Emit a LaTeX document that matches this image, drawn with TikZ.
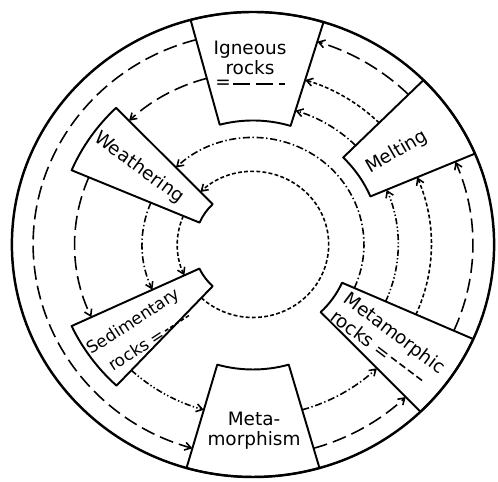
\documentclass[tikz,border=0pt]{standalone}
\usepackage{fontspec}
\setmainfont{DejaVu Sans}
\usepackage{tikz}
\usetikzlibrary{arrows.meta}

\begin{document}
\begin{tikzpicture}[x=0.02cm,y=0.02cm,
		font=\fontsize{10.5}{11.5}\selectfont,
		box/.style={line width=1.1pt, line join=round},
		ring/.style={line width=0.9pt, -{Straight Barb[length=3.5pt,width=4.5pt]}},
		ig/.style={dash pattern=on 8pt off 3.5pt},
		sed/.style={dash pattern=on 2.2pt off 1.3pt},
		met/.style={dash pattern=on 4pt off 2pt},
		dd/.style={dash pattern=on 4pt off 1.5pt on 0.8pt off 1.5pt},
		ddd/.style={dash pattern=on 3.5pt off 1.3pt on 0.8pt off 1.3pt on 0.8pt off 1.3pt}]
	\useasboundingbox (0,0) rectangle (498,482);
	\begin{scope}[shift={(253,237.5)}, xscale=1.037]
		\draw[line width=1.4pt] (0,0) circle (232.5);
		\foreach \s/\e/\ri/\ro in { 73/105/124/232.5, 254/286/125/232.5, 23/45/123/232.5, -46/-24/94/232.5, 134/157/56/190, 205/227/57/193 }
		\draw[box] (\s:\ri) arc[start angle=\s, end angle=\e, radius=\ri] -- (\e:\ro) arc[start angle=\e, end angle=\s, radius=\ro] -- cycle;
		\foreach \s/\e/\r in { 105/254/212, 286/314/212, -24/23/212, 45/73/212, 105/134/172, 157/205/172 }
		\draw[ring,ig] (\s:\r) arc[start angle=\s, end angle=\e, radius=\r];
		\foreach \s/\e/\r in { 227/494/73, 157/205/73, -24/23/172, 45/73/172 }
		\draw[ring,sed] (\s:\r) arc[start angle=\s, end angle=\e, radius=\r];
		\foreach \s/\e/\r in { -24/134/107, 157/205/107, 286/314/172, 45/73/140 }
		\draw[ring,dd] (\s:\r) arc[start angle=\s, end angle=\e, radius=\r];
		\foreach \s/\e/\r in { 227/254/172, -24/23/140 }
		\draw[ring,ddd] (\s:\r) arc[start angle=\s, end angle=\e, radius=\r];
	\end{scope}
	\node[align=center] (ign) at (250,424) {Igneous\\rocks};
	\node[inner sep=1pt] (igeq) at (223,398) {=};
	\draw[line width=0.9pt, dash pattern=on 10pt off 3pt] (igeq.east) -- ++(52,0);
	\node[rotate=30] (melt) at (397,330) {Melting};
	\node[rotate=-36] (weath) at (139,314) {Weathering};
	\node[rotate=33, inner sep=1pt, font=\fontsize{9.5}{10}\selectfont] (sed1) at (134,160) {Sedimentary};
	\node[rotate=33, inner sep=1pt, anchor=north west, font=\fontsize{9.5}{10}\selectfont] (sed2) at ([xshift=6pt]sed1.south west) {rocks =};
	\draw[sed, line width=0.9pt] (sed2.east) -- ++(33:30);
	\node[rotate=-37, inner sep=1pt] (metr1) at (394,148) {Metamorphic};
	\node[rotate=-37, inner sep=1pt, anchor=north west] (metr2) at (metr1.south west) {rocks =};
	\draw[met, line width=0.9pt] (metr2.east) -- ++(-37:40);
	\node[align=center] (mm) at (254,51) {Meta-\\morphism};
\end{tikzpicture}
\end{document}
